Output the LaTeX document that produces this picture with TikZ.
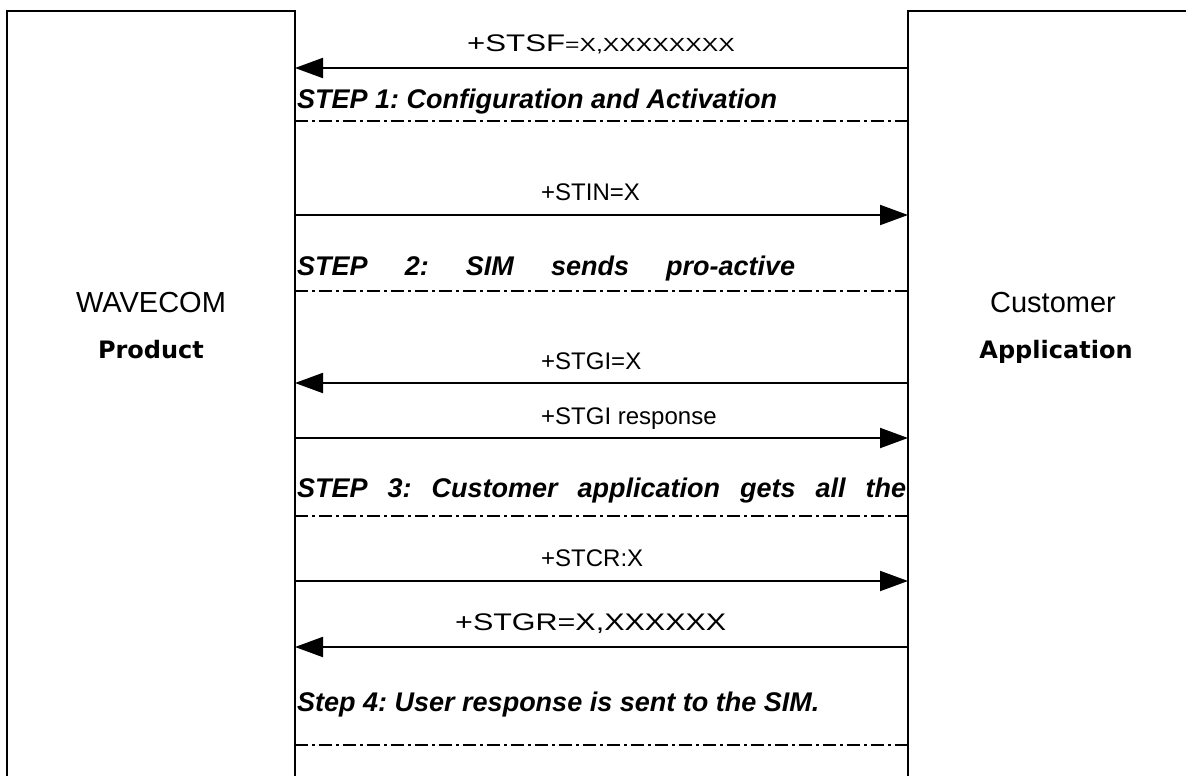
\documentclass[tikz,border=0pt]{standalone}
\usepackage{fontspec}
\setmainfont{Liberation Sans}
\newfontfamily\widefont{DejaVu Sans}
\usetikzlibrary{arrows.meta}
\begin{document}
\frenchspacing
\begin{tikzpicture}[x=1pt,y=-1pt,
  boxline/.style={line width=1.4pt,black},
  msg/.style={line width=2pt,-{Triangle[length=28pt,width=20pt]}},
  sep/.style={line width=1.2pt,dash pattern=on 13pt off 4pt on 3pt off 4pt},
  lbl/.style={font=\fontsize{24}{28}\selectfont,inner sep=0pt,anchor=base west},
  steptxt/.style={font=\fontsize{27}{30}\selectfont\bfseries\itshape,inner sep=0pt,anchor=base west},
  actor/.style={font=\fontsize{29}{32}\selectfont,inner sep=0pt,anchor=base},
  actorb/.style={font=\fontsize{24}{28}\selectfont\widefont\bfseries,inner sep=0pt,anchor=base}]
\useasboundingbox (0,0) rectangle (1186,776);
% boxes
\draw[boxline] (7,776) -- (7,11) -- (295,11) -- (295,776);
\draw[boxline] (908,776) -- (908,11) -- (1190,11);
\node[actor] (wv) at (151,312) {WAVECOM};
\node[actorb] (pr) at (151,358) {Product};
\node[actor] (cu) at (1053,312) {Customer};
\node[actorb] (ap) at (1056,358) {Application};
% lifeline coordinates
\foreach \n/\y in {1/68,2/215,3/383,4/438,5/581,6/647}{
  \coordinate (L\n) at (295,\y);
  \coordinate (R\n) at (908,\y);
}
\foreach \n/\y in {1/121,2/291,3/516,4/745}{
  \coordinate (SL\n) at (295,\y);
  \coordinate (SR\n) at (908,\y);
}
% messages
\draw[msg] (R1) -- (L1);
\node[lbl] (m1) at (467,52) {\scalebox{1.3}[1]{+STSF\fontsize{19}{20}\selectfont=X,XXXXXXXX}};
\node[steptxt] (s1) at (297,108) {STEP 1: Configuration and Activation};
\draw[sep] (SL1) -- (SR1);

\draw[msg] (L2) -- (R2);
\node[lbl] (m2) at (541,200) {+STIN=X};
\node[steptxt] (s2) at (297,275) {\makebox[498pt][s]{STEP 2: SIM sends pro-active}};
\draw[sep] (SL2) -- (SR2);

\draw[msg] (R3) -- (L3);
\node[lbl] (m3) at (541,369) {+STGI=X};
\draw[msg] (L4) -- (R4);
\node[lbl] (m4) at (541,424) {+STGI response};
\node[steptxt] (s3) at (297,497) {\makebox[609pt][s]{STEP 3: Customer application gets all the}};
\draw[sep] (SL3) -- (SR3);

\draw[msg] (L5) -- (R5);
\node[lbl] (m5) at (541,566) {+STCR:X};
\draw[msg] (R6) -- (L6);
\node[lbl] (m6) at (455,630) {\scalebox{1.27}[1]{+STGR=X,XXXXXX}};
\node[steptxt] (s4) at (297,711) {Step 4: User response is sent to the SIM.};
\draw[sep] (SL4) -- (SR4);
\end{tikzpicture}
\end{document}
